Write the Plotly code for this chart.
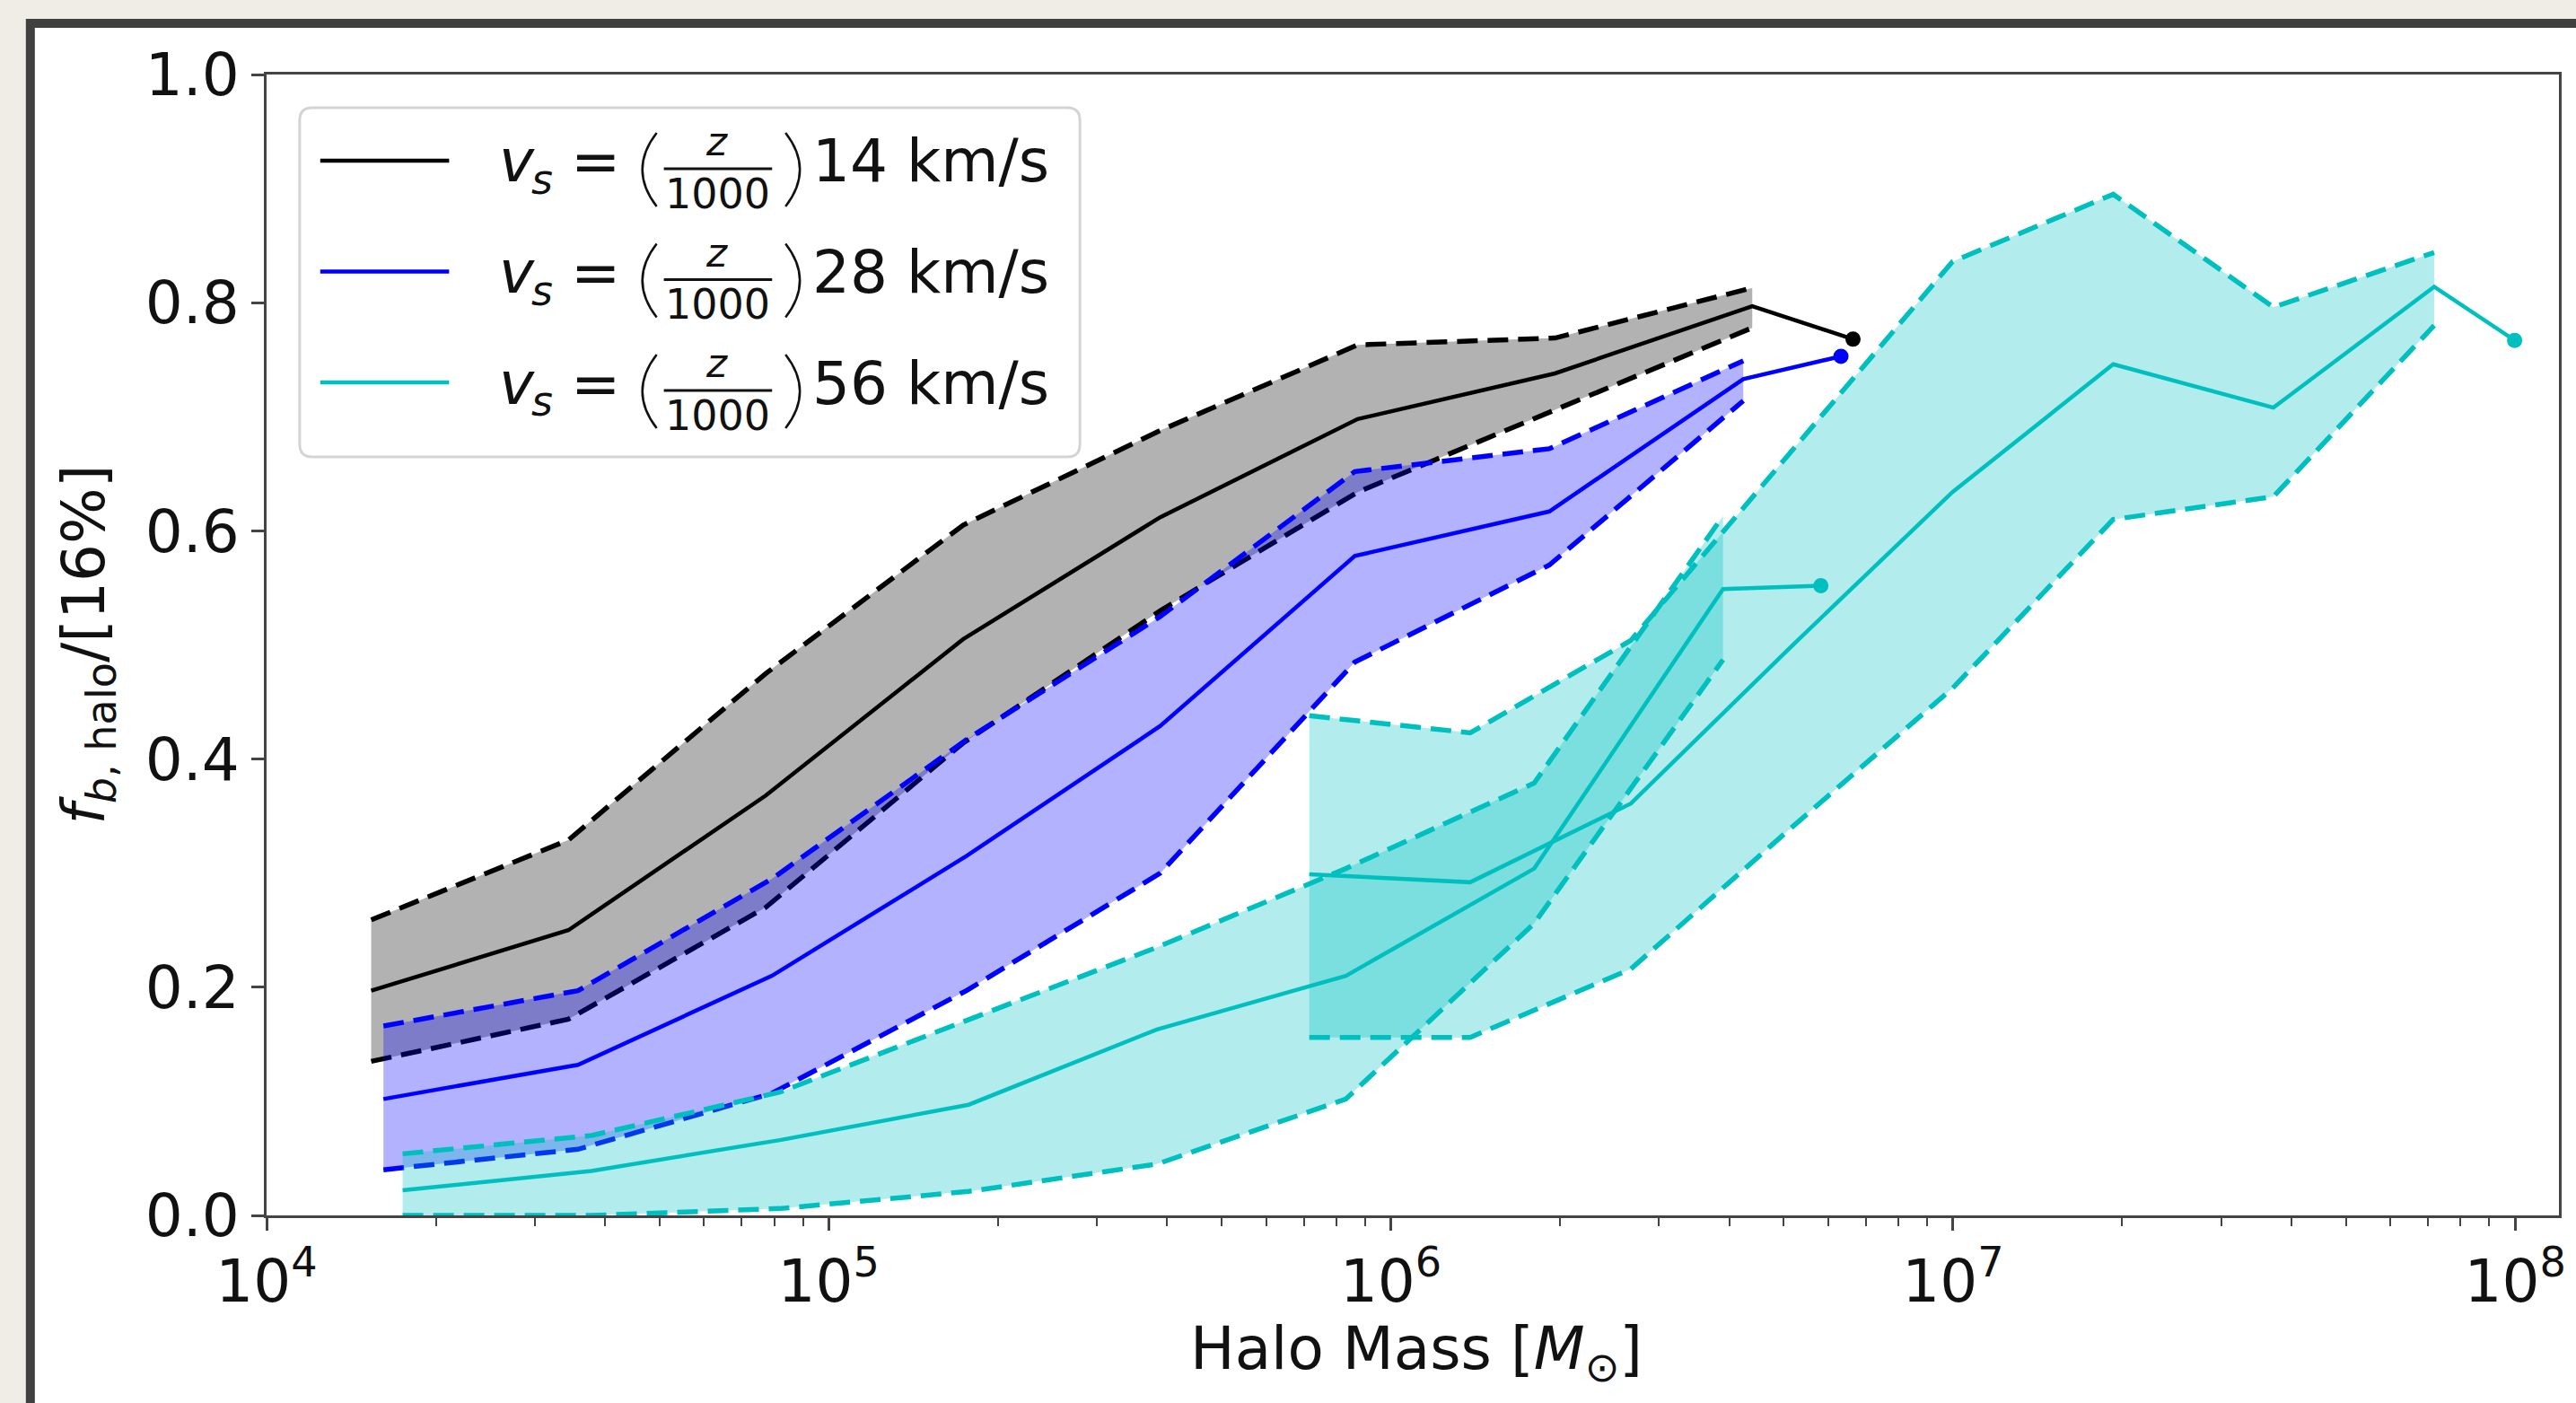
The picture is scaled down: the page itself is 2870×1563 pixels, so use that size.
import plotly.graph_objects as go

# ---------------- data ----------------
# v_s = (z/1000) 14 km/s  (black)
mass_14 = [1.535e4, 3.443e4, 7.727e4, 1.734e5, 3.890e5, 8.730e5, 1.959e6, 4.395e6]
med_14 = [0.197, 0.250, 0.368, 0.505, 0.612, 0.698, 0.738, 0.797]
hi_14 = [0.259, 0.329, 0.475, 0.605, 0.688, 0.763, 0.769, 0.813]
lo_14 = [0.135, 0.172, 0.270, 0.414, 0.530, 0.634, 0.706, 0.778]
end_mass_14 = 6.64e6
end_val_14 = 0.768

# v_s = (z/1000) 28 km/s  (blue)
mass_28 = [1.614e4, 3.581e4, 7.925e4, 1.758e5, 3.890e5, 8.630e5, 1.914e6, 4.236e6]
med_28 = [0.102, 0.132, 0.210, 0.315, 0.429, 0.578, 0.617, 0.733]
hi_28 = [0.166, 0.197, 0.295, 0.417, 0.525, 0.652, 0.672, 0.749]
lo_28 = [0.040, 0.058, 0.107, 0.197, 0.300, 0.485, 0.570, 0.714]
end_mass_28 = 6.32e6
end_val_28 = 0.753

# v_s = (z/1000) 56 km/s  (cyan), low-mass set
mass_56a = [1.746e4, 3.784e4, 8.185e4, 1.774e5, 3.837e5, 8.318e5, 1.799e6, 3.899e6]
med_56a = [0.022, 0.039, 0.066, 0.097, 0.163, 0.210, 0.304, 0.549]
hi_56a = [0.054, 0.070, 0.108, 0.172, 0.235, 0.304, 0.379, 0.613]
lo_56a = [0.000, 0.000, 0.006, 0.021, 0.045, 0.102, 0.256, 0.487]
end_mass_56a = 5.82e6
end_val_56a = 0.552

# v_s = (z/1000) 56 km/s  (cyan), high-mass set
mass_56b = [7.16e5, 1.384e6, 2.673e6, 5.164e6, 9.98e6, 1.928e7, 3.715e7, 7.178e7]
med_56b = [0.299, 0.292, 0.361, 0.499, 0.634, 0.746, 0.708, 0.814]
hi_56b = [0.438, 0.423, 0.504, 0.670, 0.836, 0.895, 0.796, 0.844]
lo_56b = [0.156, 0.156, 0.216, 0.340, 0.462, 0.610, 0.630, 0.780]
end_mass_56b = 9.98e7
end_val_56b = 0.767

legend_speeds = ["14", "28", "56"]
x_tick_vals = [1e4, 1e5, 1e6, 1e7, 1e8]
x_tick_text = ["10<sup>4</sup>", "10<sup>5</sup>", "10<sup>6</sup>", "10<sup>7</sup>", "10<sup>8</sup>"]
y_tick_vals = [0.0, 0.2, 0.4, 0.6, 0.8, 1.0]

# ---------------- styling ----------------
BLACK = "#000000"
BLUE = "#0000ff"
CYAN = "#00bfbf"
FILL_BLACK = "rgba(0,0,0,0.3)"
FILL_BLUE = "rgba(0,0,255,0.3)"
FILL_CYAN = "rgba(0,191,191,0.3)"
FONT = "DejaVu Sans"
TXT = "#111111"
AX = "#444444"

W, H = 2870, 1563
L, R, T, B = 297, 2859, 83, 1354


def fx(p):
    return (p - L) / (R - L)


def fy(p):
    return (B - p) / (B - T)


fig = go.Figure()


def add_series(mass, med, hi, lo, end_m, end_v, color, fill):
    fig.add_trace(go.Scatter(
        x=list(mass) + list(mass)[::-1], y=list(hi) + list(lo)[::-1],
        fill="toself", fillcolor=fill, mode="lines", line=dict(width=0),
        hoverinfo="skip", showlegend=False))
    for band in (hi, lo):
        fig.add_trace(go.Scatter(
            x=mass, y=band, mode="lines",
            line=dict(color=color, width=5.5, dash="23px,11px"),
            showlegend=False))
    fig.add_trace(go.Scatter(
        x=list(mass) + [end_m], y=list(med) + [end_v], mode="lines",
        line=dict(color=color, width=4.5), showlegend=False))
    fig.add_trace(go.Scatter(
        x=[end_m], y=[end_v], mode="markers",
        marker=dict(color=color, size=17), showlegend=False))


add_series(mass_14, med_14, hi_14, lo_14, end_mass_14, end_val_14, BLACK, FILL_BLACK)
add_series(mass_28, med_28, hi_28, lo_28, end_mass_28, end_val_28, BLUE, FILL_BLUE)
add_series(mass_56a, med_56a, hi_56a, lo_56a, end_mass_56a, end_val_56a, CYAN, FILL_CYAN)
add_series(mass_56b, med_56b, hi_56b, lo_56b, end_mass_56b, end_val_56b, CYAN, FILL_CYAN)

minor_vals = [m * 10 ** e for e in range(4, 8) for m in range(2, 10)]

fig.update_layout(
    width=W, height=H,
    margin=dict(l=L, r=W - R, t=T, b=H - B, pad=0),
    paper_bgcolor="#efede6",
    plot_bgcolor="white",
    font=dict(family=FONT, color=TXT, size=66),
    showlegend=False,
    xaxis=dict(
        type="log", range=[4, 8.078], showgrid=False, zeroline=False,
        showline=True, linecolor=AX, linewidth=3, mirror=True,
        ticks="outside", ticklen=14, tickwidth=2.5, tickcolor=AX,
        tickmode="array", tickvals=x_tick_vals, ticktext=x_tick_text,
        tickfont=dict(family=FONT, size=66, color=TXT),
        minor=dict(ticks="outside", ticklen=9, tickwidth=2, tickcolor=AX,
                   tickmode="array", tickvals=minor_vals, showgrid=False),
    ),
    yaxis=dict(
        range=[0, 1], showgrid=False, zeroline=False,
        showline=True, linecolor=AX, linewidth=3, mirror=True,
        ticks="outside", ticklen=14, tickwidth=2.5, tickcolor=AX,
        tickmode="array", tickvals=y_tick_vals,
        ticktext=[f"{v:.1f}" for v in y_tick_vals],
        tickfont=dict(family=FONT, size=66, color=TXT),
    ),
)

shapes = []
annotations = []

# outer frame of the picture
shapes.append(dict(type="rect", xref="paper", yref="paper",
                   x0=fx(33), x1=fx(2990), y0=fy(1700), y1=fy(26),
                   line=dict(color="#404040", width=10), fillcolor="white",
                   layer="below"))


def rounded_rect(x0, y0, x1, y1, r):
    pts = [
        f"M {fx(x0 + r)},{fy(y0)}",
        f"L {fx(x1 - r)},{fy(y0)}",
        f"Q {fx(x1)},{fy(y0)} {fx(x1)},{fy(y0 + r)}",
        f"L {fx(x1)},{fy(y1 - r)}",
        f"Q {fx(x1)},{fy(y1)} {fx(x1 - r)},{fy(y1)}",
        f"L {fx(x0 + r)},{fy(y1)}",
        f"Q {fx(x0)},{fy(y1)} {fx(x0)},{fy(y1 - r)}",
        f"L {fx(x0)},{fy(y0 + r)}",
        f"Q {fx(x0)},{fy(y0)} {fx(x0 + r)},{fy(y0)}",
        "Z",
    ]
    return " ".join(pts)


# legend box
shapes.append(dict(type="path", xref="paper", yref="paper",
                   path=rounded_rect(334, 120, 1206, 509, 14),
                   line=dict(color="#d4d4d4", width=3),
                   fillcolor="rgba(255,255,255,0.85)", layer="above"))

legend_colors = [BLACK, BLUE, CYAN]
for i, (spd, col) in enumerate(zip(legend_speeds, legend_colors)):
    dy = i * 123.5
    # line sample
    shapes.append(dict(type="line", xref="paper", yref="paper",
                       x0=fx(357), x1=fx(501), y0=fy(179 + dy), y1=fy(179 + dy),
                       line=dict(color=col, width=4.5), layer="above"))
    # parentheses
    shapes.append(dict(type="path", xref="paper", yref="paper",
                       path=f"M {fx(733)},{fy(148 + dy)} Q {fx(701)},{fy(189 + dy)} {fx(733)},{fy(230 + dy)}",
                       line=dict(color=TXT, width=2.5), layer="above"))
    shapes.append(dict(type="path", xref="paper", yref="paper",
                       path=f"M {fx(877)},{fy(148 + dy)} Q {fx(909)},{fy(189 + dy)} {fx(877)},{fy(230 + dy)}",
                       line=dict(color=TXT, width=2.5), layer="above"))
    # fraction bar
    shapes.append(dict(type="line", xref="paper", yref="paper",
                       x0=fx(741), x1=fx(862), y0=fy(188 + dy), y1=fy(188 + dy),
                       line=dict(color=TXT, width=3), layer="above"))
    common = dict(xref="paper", yref="paper", showarrow=False, borderpad=0,
                  yanchor="middle")
    annotations.append(dict(text="<i>v</i>", x=fx(556), y=fy(180 + dy), xanchor="left",
                            font=dict(family=FONT, size=66, color=TXT), **common))
    annotations.append(dict(text="<i>s</i>", x=fx(592), y=fy(200 + dy), xanchor="left",
                            font=dict(family=FONT, size=46, color=TXT), **common))
    annotations.append(dict(text="=", x=fx(636), y=fy(180 + dy), xanchor="left",
                            font=dict(family=FONT, size=66, color=TXT), **common))
    annotations.append(dict(text="<i>z</i>", x=fx(800), y=fy(158 + dy), xanchor="center",
                            font=dict(family=FONT, size=44, color=TXT), **common))
    annotations.append(dict(text="1000", x=fx(801), y=fy(216 + dy), xanchor="center",
                            font=dict(family=FONT, size=46, color=TXT), **common))
    annotations.append(dict(text=f"{spd} km/s", x=fx(906), y=fy(180 + dy), xanchor="left",
                            font=dict(family=FONT, size=66, color=TXT), **common))

# axis titles
annotations.append(dict(text="Halo Mass [<i>M</i><sub>⊙</sub>]", xref="paper", yref="paper",
                        x=fx(1582), y=fy(1507), xanchor="center", yanchor="middle",
                        showarrow=False, borderpad=0,
                        font=dict(family=FONT, size=66, color=TXT)))
annotations.append(dict(text="<i>f</i><sub><i>b</i>, halo</sub>/[16%]", xref="paper", yref="paper",
                        x=fx(97), y=fy(718), xanchor="center", yanchor="middle",
                        textangle=-90, showarrow=False, borderpad=0,
                        font=dict(family=FONT, size=66, color=TXT)))

fig.update_layout(shapes=shapes, annotations=annotations)

fig.write_html("out.html")
